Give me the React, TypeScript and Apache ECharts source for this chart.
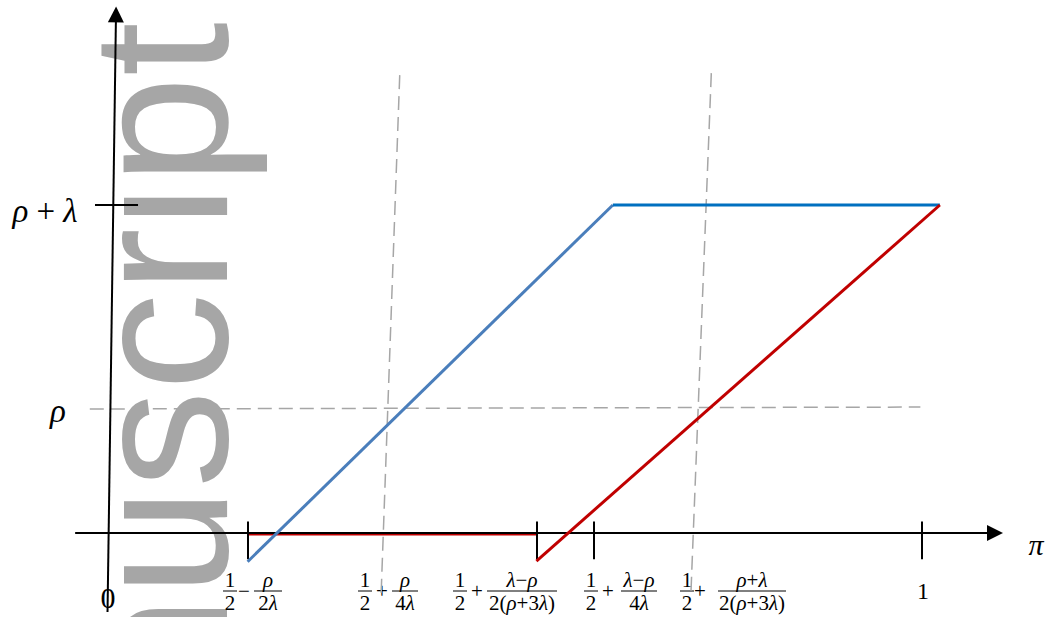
import { useEffect, useRef } from "react";
import * as echarts from "echarts";

// ---- values (π on the horizontal axis, payoff level on the vertical axis) ----
const tickPi = [0.171, 0.527, 0.596, 1.0];
const levelRho = 0.378;
const levelRhoPlusLambda = 1;

// blue schedule: rising branch, then flat at ρ+λ
const blueRisePi = [0.171, 0.62];
const blueRiseVal = [-0.0875, levelRhoPlusLambda];
const bluePlateauPi = [0.62, 1.022];
const bluePlateauVal = [levelRhoPlusLambda, levelRhoPlusLambda];

// red schedule: zero stretch, then rising branch
const redFlatPi = [0.171, 0.526];
const redFlatVal = [-0.005, -0.005];
const redRisePi = [0.526, 1.022];
const redRiseVal = [-0.0855, levelRhoPlusLambda];

// dashed guides
const guideAPi = [0.358, 0.335];
const guideAVal = [1.396, -0.195];
const guideBPi = [0.741, 0.716];
const guideBVal = [1.402, -0.18];
const guideRhoPi = [-0.023, 0.998];
const guideRhoVal = [levelRho, 0.384];

// axes (slightly hand-drawn: the vertical one leans)
const piAxisPi = [-0.041, 1.0897];
const piAxisVal = [0, 0];
const valAxisPi = [-0.0012, 0.0092];
const valAxisVal = [-0.241, 1.581];
const tickSpanVal = [0.035, -0.08];
const valTickPi = [-0.0166, 0.0363];

// tick label contents
const halfNum = "1";
const halfDen = "2";
const tickLabelOps = ["−", "+", "+", "+", "+"];
const tickLabelNums = ["{i|ρ}", "{i|ρ}", "{i|λ}−{i|ρ}", "{i|λ}−{i|ρ}", "{i|ρ}+{i|λ}"];
const tickLabelDens = ["2{i|λ}", "4{i|λ}", "2({i|ρ}+3{i|λ})", "4{i|λ}", "2({i|ρ}+3{i|λ})"];

// ---- layout ----
const W = 1047;
const H = 617;
const X0 = 108.5; // pixel of π = 0
const XS = 813.5; // pixels per unit of π
const Y0 = 533; // pixel of level 0
const YS = 328; // pixels per unit of level

const serif = '"Liberation Serif", "Times New Roman", serif';
const BAR_Y = 591;
const halfX = [230, 365, 460, 591, 687];
const opX = [244, 382, 477, 608, 700];
const fracX = [268, 405, 522, 639, 752];
const fracW = [28, 26, 70, 36, 68];

const pairs = (xs: number[], ys: number[]) => xs.map((x, i) => [x, ys[i]]);

function seg(xs: number[], ys: number[], color: string, width: number, z: number, dash?: number[]) {
  return {
    type: "line",
    data: pairs(xs, ys),
    symbol: "none",
    silent: true,
    z,
    lineStyle: { color, width, type: dash ?? "solid", cap: "butt" },
  };
}

function txt(x: number, y: number, text: string, size: number, italic = false) {
  return {
    type: "text",
    x,
    y,
    z: 1,
    style: {
      text,
      fontSize: size,
      fontFamily: serif,
      fontStyle: italic ? "italic" : "normal",
      fill: "#000",
      align: "center",
      verticalAlign: "middle",
      rich: { i: { fontStyle: "italic", fontSize: size, fontFamily: serif } },
    },
  };
}

function frac(cx: number, num: string, den: string, w: number, size = 21) {
  return [
    txt(cx, BAR_Y - 11, num, size),
    {
      type: "line",
      z: 1,
      shape: { x1: cx - w / 2, y1: BAR_Y, x2: cx + w / 2, y2: BAR_Y },
      style: { stroke: "#000", lineWidth: 1 },
    },
    txt(cx, BAR_Y + 12, den, size),
  ];
}

function buildGraphics() {
  const els: any[] = [
    {
      type: "text",
      x: 256,
      y: 22,
      rotation: Math.PI / 2,
      z: 0,
      style: {
        text: "Manuscript",
        fontSize: 195,
        fontFamily: '"Liberation Sans", Arial, sans-serif',
        fill: "#a6a6a6",
        align: "right",
        verticalAlign: "bottom",
      },
    },
    { type: "rect", z: 0.5, shape: { x: 0, y: 192, width: 118, height: 34 }, style: { fill: "#fff" } },
    txt(45, 211, "{i|ρ} + {i|λ}", 33),
    txt(58, 411, "ρ", 33, true),
    txt(108, 597, "0", 30),
    txt(923, 591, "1", 24),
    txt(1036, 544, "π", 30, true),
  ];
  for (let k = 0; k < tickLabelNums.length; k++) {
    els.push(...frac(halfX[k], halfNum, halfDen, 14));
    els.push(txt(opX[k], BAR_Y, tickLabelOps[k], 21));
    els.push(...frac(fracX[k], tickLabelNums[k], tickLabelDens[k], fracW[k]));
  }
  return els;
}

export default function App() {
  const ref = useRef<HTMLDivElement>(null);

  useEffect(() => {
    if (!ref.current) return;
    const chart = echarts.init(ref.current, null, { renderer: "svg" });
    const gray = "#a6a6a6";
    const dash = [14, 7];

    chart.setOption({
      animation: false,
      backgroundColor: "#fff",
      grid: { left: 0, right: 0, top: 0, bottom: 0 },
      xAxis: { type: "value", min: -X0 / XS, max: (W - X0) / XS, show: false },
      yAxis: { type: "value", min: -(H - Y0) / YS, max: Y0 / YS, show: false },
      graphic: buildGraphics(),
      series: [
        seg(guideAPi, guideAVal, gray, 1.5, 2, dash),
        seg(guideBPi, guideBVal, gray, 1.5, 2, dash),
        seg(guideRhoPi, guideRhoVal, gray, 1.5, 2, dash),
        seg(redFlatPi, redFlatVal, "#c00000", 1.5, 2),
        {
          type: "lines",
          coordinateSystem: "cartesian2d",
          silent: true,
          z: 4,
          symbol: ["none", "triangle"],
          symbolSize: [15, 16],
          lineStyle: { color: "#000", width: 2, opacity: 1, curveness: 0 },
          itemStyle: { color: "#000" },
          data: [{ coords: pairs(piAxisPi, piAxisVal) }, { coords: pairs(valAxisPi, valAxisVal) }],
        },
        {
          type: "lines",
          coordinateSystem: "cartesian2d",
          silent: true,
          z: 4,
          symbol: ["none", "none"],
          lineStyle: { color: "#000", width: 2, opacity: 1, curveness: 0 },
          data: [
            ...tickPi.map((p) => ({ coords: [[p, tickSpanVal[0]], [p, tickSpanVal[1]]] })),
            { coords: pairs(valTickPi, [levelRhoPlusLambda, levelRhoPlusLambda]) },
          ],
        },
        seg(blueRisePi, blueRiseVal, "#4a7ebb", 3, 5),
        seg(bluePlateauPi, bluePlateauVal, "#0070c0", 3, 5),
        seg(redRisePi, redRiseVal, "#c00000", 3, 5),
      ],
    });
    return () => chart.dispose();
  }, []);

  return (
    <div
      ref={ref}
      style={{ position: "fixed", left: 0, top: 0, width: W, height: H, background: "#fff" }}
    />
  );
}
